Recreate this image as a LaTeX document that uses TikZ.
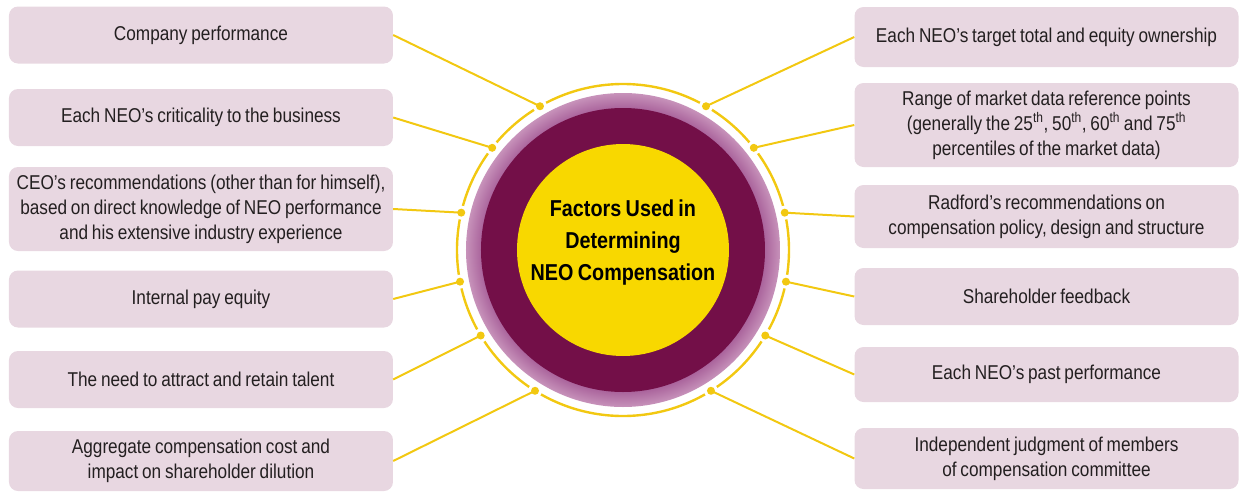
\documentclass[tikz,border=0pt]{standalone}
\usepackage{fontspec}
\setmainfont{Liberation Sans}[FakeStretch=0.86, WordSpace=0.8]
\usepackage{xcolor}
\usepackage{tikz}
\usetikzlibrary{positioning}

\definecolor{boxfill}{HTML}{E8D7E1}
\definecolor{ringgold}{HTML}{F2C811}
\definecolor{coreyellow}{HTML}{F8D800}
\definecolor{plum}{HTML}{730F48}
\definecolor{mauvelight}{HTML}{C792BA}
\definecolor{mauvedark}{HTML}{A35995}
\definecolor{txt}{HTML}{231F20}
\pgfdeclareradialshading{mauveshade}{\pgfpointorigin}{color(0bp)=(mauvedark); color(22bp)=(mauvedark); color(25bp)=(mauvelight); color(50bp)=(mauvelight)}

\begin{document}
\begin{tikzpicture}[
  x=1pt, y=1pt,
  factor/.style={fill=boxfill, rounded corners=9pt, align=center, minimum width=384pt, inner xsep=7pt, inner ysep=0pt,
    minimum height=57pt, text=txt, font=\fontsize{20}{25}\selectfont},
  tall/.style={factor, minimum height=84pt},
  link/.style={ringgold, line width=2pt},
  orbit/.style={ringgold, line width=2.4pt}
]
  \useasboundingbox (-623,-241) rectangle (617,250);

  \node[factor] (l1) at (-422,215) {Company performance};
  \node[factor] (l2) at (-422,132.5) {Each NEO's criticality to the business};
  \node[tall] (l3) at (-422,41) {CEO's recommendations (other than for himself),\\based on direct knowledge of NEO performance\\and his extensive industry experience};
  \node[factor] (l4) at (-422,-49) {Internal pay equity};
  \node[factor] (l5) at (-422,-129.5) {The need to attract and retain talent};
  \node[factor, minimum height=60pt] (l6) at (-422,-211) {Aggregate compensation cost and\\impact on shareholder dilution};

  \node[factor, minimum height=60pt] (r1) at (423.5,213) {Each NEO's target total and equity ownership};
  \node[tall] (r2) at (423.5,125) {Range of market data reference points\\(generally the 25\textsuperscript{th}, 50\textsuperscript{th}, 60\textsuperscript{th} and 75\textsuperscript{th}\\percentiles of the market data)};
  \node[factor, minimum height=63pt] (r3) at (423.5,33.5) {Radford's recommendations on\\compensation policy, design and structure};
  \node[factor] (r4) at (423.5,-46.5) {Shareholder feedback};
  \node[factor, minimum height=55pt] (r5) at (423.5,-124.5) {Each NEO's past performance};
  \node[factor, minimum height=61pt] (r6) at (423.5,-208.5) {Independent judgment of members\\of compensation committee};

  \coordinate (dl1) at (120:166);
  \coordinate (dl2) at (142:166);
  \coordinate (dl3) at (167:166);
  \coordinate (dl4) at (191:166);
  \coordinate (dl5) at (211:166);
  \coordinate (dl6) at (238:166);
  \coordinate (dr1) at (60:166);
  \coordinate (dr2) at (38:166);
  \coordinate (dr3) at (13:166);
  \coordinate (dr4) at (-11:166);
  \coordinate (dr5) at (-31:166);
  \coordinate (dr6) at (-58:166);

  \draw[orbit] (0,0) circle (166);
  \fill[white] (dl1) circle (7) (dl2) circle (7) (dl3) circle (7) (dl4) circle (7) (dl5) circle (7) (dl6) circle (7);
  \fill[white] (dr1) circle (7) (dr2) circle (7) (dr3) circle (7) (dr4) circle (7) (dr5) circle (7) (dr6) circle (7);

  \shade[shading=mauveshade] (0,0) circle (157);
  \fill[plum] (0,0) circle (142);
  \node[circle, fill=coreyellow, minimum size=212pt, inner sep=0pt] (core) at (0,0) {};
  \node[align=center, font=\bfseries\fontsize{23}{32}\selectfont, text=black] (title) at (0,7) {Factors Used in\\Determining\\NEO Compensation};

  \draw[link] (l1.east) -- (dl1);
  \draw[link] (l2.east) -- (dl2);
  \draw[link] (l3.east) -- (dl3);
  \draw[link] (l4.east) -- (dl4);
  \draw[link] (l5.east) -- (dl5);
  \draw[link] (l6.east) -- (dl6);
  \draw[link] (r1.west) -- (dr1);
  \draw[link] (r2.west) -- (dr2);
  \draw[link] (r3.west) -- (dr3);
  \draw[link] (r4.west) -- (dr4);
  \draw[link] (r5.west) -- (dr5);
  \draw[link] (r6.west) -- (dr6);

  \fill[ringgold] (dl1) circle (4) (dl2) circle (4) (dl3) circle (4) (dl4) circle (4) (dl5) circle (4) (dl6) circle (4);
  \fill[ringgold] (dr1) circle (4) (dr2) circle (4) (dr3) circle (4) (dr4) circle (4) (dr5) circle (4) (dr6) circle (4);
\end{tikzpicture}
\end{document}
